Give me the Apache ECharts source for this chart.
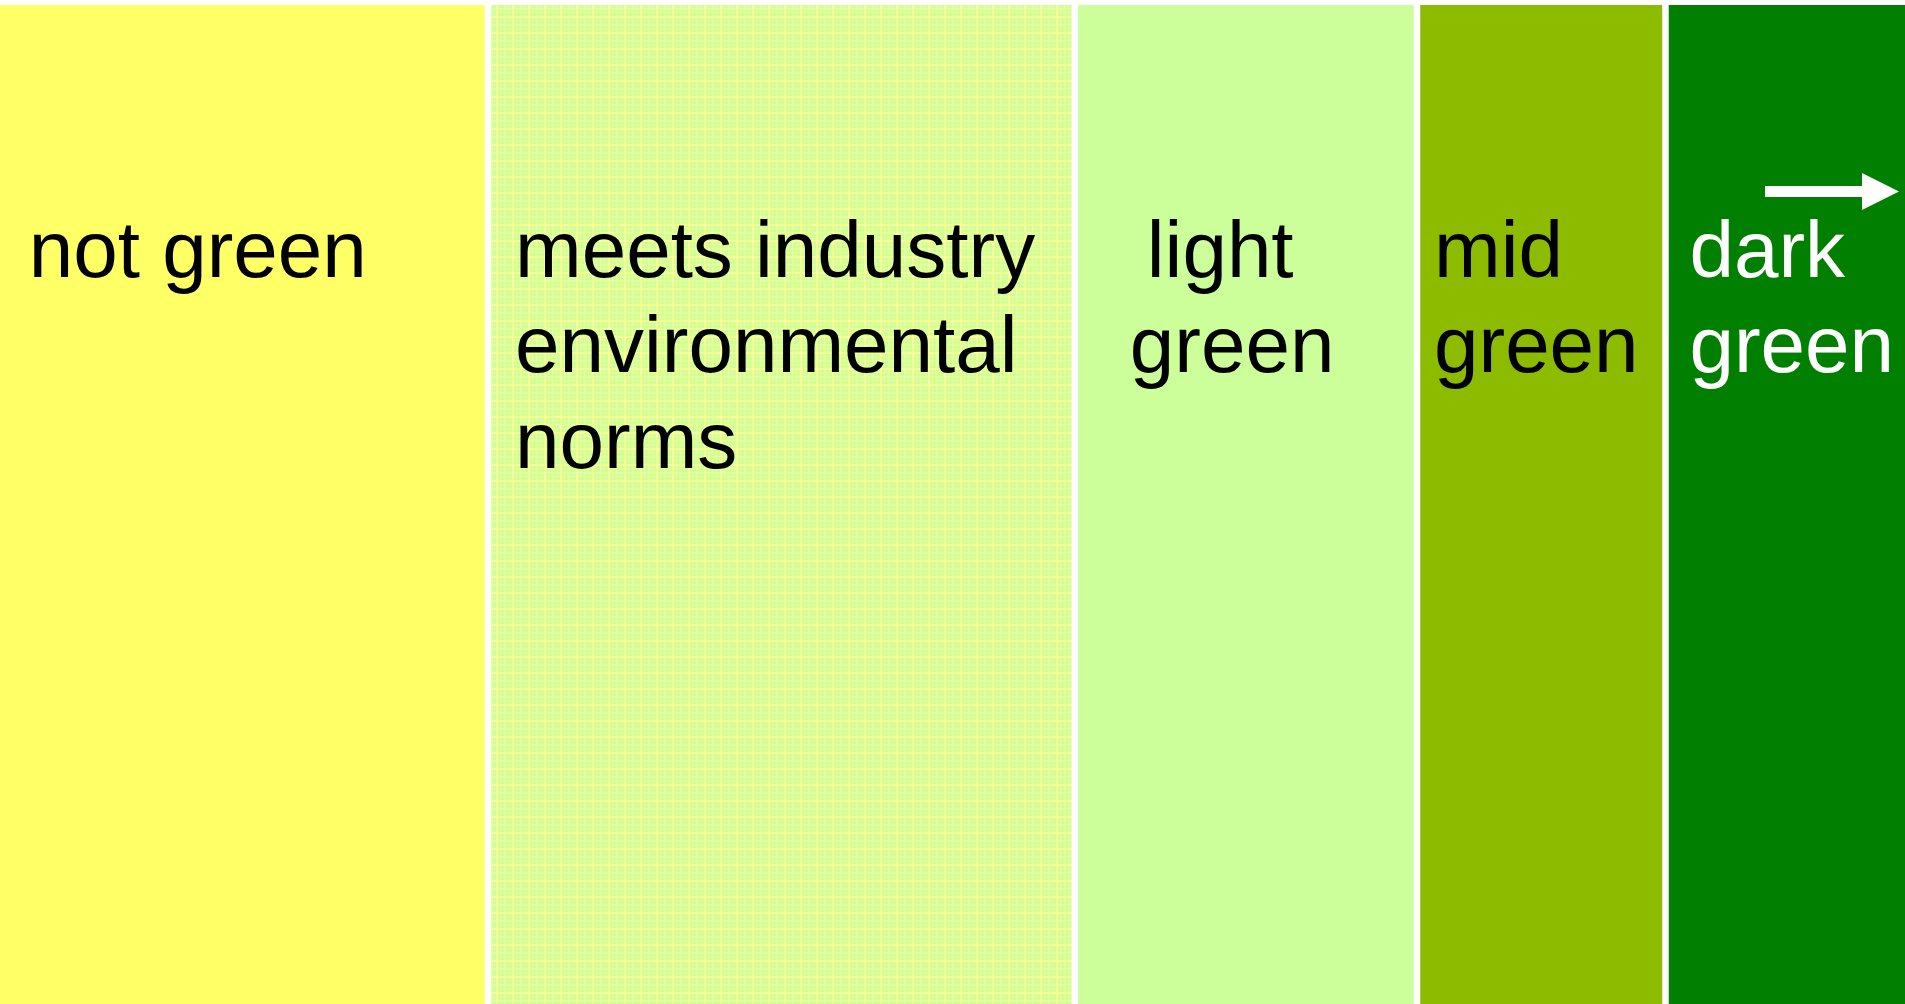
<!DOCTYPE html>
<html>
<head>
<meta charset="utf-8">
<script src="https://cdn.jsdelivr.net/npm/echarts@6/dist/echarts.min.js"></script>
<style>
html,body{margin:0;padding:0;background:#fff;}
#c{width:1905px;height:1004px;}
</style>
</head>
<body>
<div id="c"></div>
<script>
// Data
var categories = ['not green', 'meets industry environmental norms', 'light green', 'mid green', 'dark green'];
var labelTexts = ['not green', 'meets industry\nenvironmental\nnorms', 'light\ngreen', 'mid\ngreen', 'dark\ngreen'];
var shares = [25.7, 30.7, 17.9, 13.0, 12.7];

// Styles
var colors = ['#FFFF66', null, '#CCFF99', '#8CBB00', '#007F00'];
var textColors = ['#000', '#000', '#000', '#000', '#fff'];
var labelDx = [32, 27, 55, 17, 24];

function makePlaid() {
  var c = document.createElement('canvas');
  c.width = 16; c.height = 16;
  var g = c.getContext('2d');
  g.fillStyle = '#CFFF99';
  g.fillRect(0, 0, 16, 16);
  g.fillStyle = 'rgba(255,255,140,0.30)';
  for (var i = 0; i < 16; i += 4) { g.fillRect(i, 0, 1, 16); g.fillRect(0, i, 16, 1); }
  g.fillStyle = 'rgba(255,255,150,0.75)';
  g.fillRect(0, 0, 2, 16);
  g.fillRect(0, 0, 16, 2);
  g.fillStyle = 'rgba(255,255,160,0.30)';
  g.fillRect(8, 0, 2, 16);
  g.fillRect(0, 8, 16, 2);
  return c;
}
var plaid = makePlaid();

var chart = echarts.init(document.getElementById('c'));
var FONT = 'Liberation Sans, Arial, sans-serif';
var FS = 80, LH = 95.5;
var series = categories.map(function (name, i) {
  return {
    name: name,
    type: 'bar',
    stack: 'all',
    barWidth: '100%',
    silent: true,
    clip: false,
    data: [shares[i]],
    itemStyle: {
      color: i === 1 ? { image: plaid, repeat: 'repeat' } : colors[i],
      borderColor: '#ffffff',
      borderWidth: 3.25
    },
    label: {
      show: true,
      position: [labelDx[i], 205],
      align: 'left',
      verticalAlign: 'top',
      formatter: i === 2 ? '{a|light}\n{b|green}' : labelTexts[i],
      color: textColors[i],
      fontFamily: FONT,
      fontSize: FS,
      lineHeight: LH,
      rich: i === 2 ? {
        a: { fontSize: FS, lineHeight: LH, padding: [0, 0, 0, 17], color: '#000', fontFamily: FONT },
        b: { fontSize: FS, lineHeight: LH, color: '#000', fontFamily: FONT }
      } : undefined
    }
  };
});

chart.setOption({
  animation: false,
  backgroundColor: '#ffffff',
  grid: { left: -3.25, right: -3.25, top: 1.75, bottom: -3.25, containLabel: false, outerBoundsMode: 'none' },
  xAxis: { type: 'value', min: 0, max: 100, show: false },
  yAxis: { type: 'category', data: ['scale'], show: false },
  series: series,
  graphic: [
    { type: 'rect', shape: { x: 1765, y: 186, width: 99, height: 11 }, style: { fill: '#fff' }, z: 100 },
    { type: 'polygon', shape: { points: [[1862, 173], [1899, 191.5], [1862, 210]] }, style: { fill: '#fff' }, z: 100 }
  ]
});
</script>
</body>
</html>
